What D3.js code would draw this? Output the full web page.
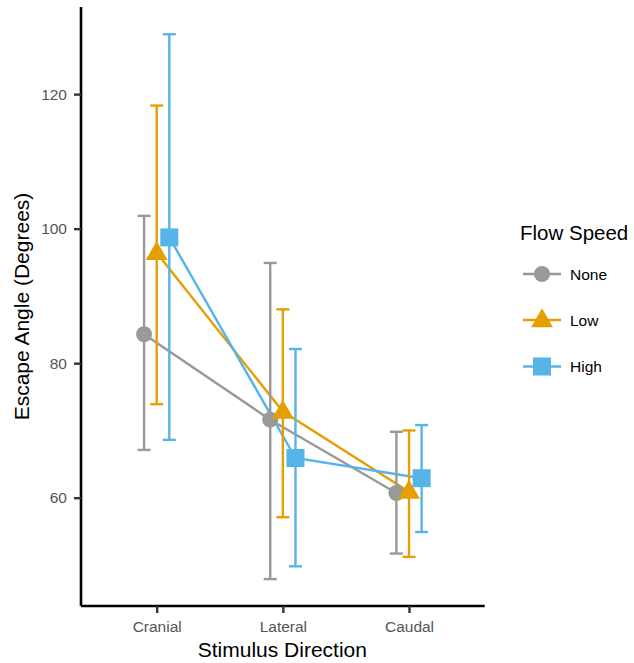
<!DOCTYPE html>
<html><head><meta charset="utf-8">
<script src="https://cdn.jsdelivr.net/npm/d3@7"></script>
<style>body{margin:0;background:#fff;font-family:Arial,"Liberation Sans",sans-serif;}</style>
</head><body>
<svg id="c" width="634" height="663"></svg>
<script>
const categories = ["Cranial", "Lateral", "Caudal"];
const seriesNames = ["None", "Low", "High"];
const meanNone = [84.3, 71.6, 60.7];
const meanLow  = [96.4, 72.8, 60.9];
const meanHigh = [98.7, 65.9, 62.9];
const upperNone = [101.9, 94.9, 69.8];
const upperLow  = [118.3, 88.0, 70.0];
const upperHigh = [128.9, 82.1, 70.8];
const lowerNone = [67.1, 47.9, 51.7];
const lowerLow  = [73.9, 57.1, 51.2];
const lowerHigh = [68.6, 49.8, 54.9];
const yTicks = [60, 80, 100, 120];

const colors = {None:"#999999", Low:"#E69F00", High:"#56B4E9"};
const dodge = {None:-0.1, Low:0, High:0.1};
const series = [
  {name:"None", mean:meanNone, upper:upperNone, lower:lowerNone},
  {name:"Low", mean:meanLow, upper:upperLow, lower:lowerLow},
  {name:"High", mean:meanHigh, upper:upperHigh, lower:lowerHigh}
];

const svg = d3.select("#c");
const pLeft = 81, pRight = 484.7, pTop = 7, pBottom = 606;
const x = d3.scalePoint().domain(categories).range([pLeft, pRight]).padding(0.6);
const y = d3.scaleLinear().domain([43.9, 132.95]).range([pBottom, pTop]);
const step = x.step();
const px = (s, i) => x(categories[i]) + dodge[s.name] * step;
const lw = 2.4;

// lines
const g = svg.append("g");
series.forEach(s => {
  const line = d3.line().x((d,i)=>px(s,i)).y(d=>y(d));
  g.append("path").attr("d", line(s.mean)).attr("fill","none")
    .attr("stroke", colors[s.name]).attr("stroke-width", lw);
});
// error bars
const capW = 6.5;
series.forEach(s => {
  s.mean.forEach((m,i) => {
    const cx = px(s,i);
    const c = colors[s.name];
    g.append("line").attr("x1",cx).attr("x2",cx).attr("y1",y(s.lower[i])).attr("y2",y(s.upper[i]))
      .attr("stroke",c).attr("stroke-width",lw);
    [s.lower[i], s.upper[i]].forEach(v => {
      g.append("line").attr("x1",cx-capW).attr("x2",cx+capW).attr("y1",y(v)).attr("y2",y(v))
        .attr("stroke",c).attr("stroke-width",lw);
    });
  });
});
// points
function drawShape(sel, name, cx, cy) {
  const c = colors[name];
  if (name === "None") {
    sel.append("circle").attr("cx",cx).attr("cy",cy).attr("r",8).attr("fill",c);
  } else if (name === "Low") {
    const w = 22, h = 19;
    sel.append("path").attr("d", `M${cx},${cy-h*0.62}L${cx+w/2},${cy+h*0.38}L${cx-w/2},${cy+h*0.38}Z`).attr("fill",c);
  } else {
    sel.append("rect").attr("x",cx-9).attr("y",cy-9).attr("width",18).attr("height",18).attr("fill",c);
  }
}
series.forEach(s => s.mean.forEach((m,i) => drawShape(g, s.name, px(s,i), y(m))));

// axes
const yAxis = svg.append("g").attr("transform",`translate(${pLeft},0)`)
  .call(d3.axisLeft(y).tickValues(yTicks).tickSize(7).tickPadding(7).tickFormat(d3.format("d")));
const xAxis = svg.append("g").attr("transform",`translate(0,${pBottom})`)
  .call(d3.axisBottom(x).tickSize(7).tickPadding(8));
[yAxis, xAxis].forEach(a => {
  a.select(".domain").attr("stroke","#000").attr("stroke-width",2.6);
  a.selectAll(".tick line").attr("stroke","#333").attr("stroke-width",2.4);
  a.selectAll(".tick text").attr("fill","#555").attr("font-size","15.5px").attr("font-family","Arial, 'Liberation Sans', sans-serif");
});
yAxis.select(".domain").attr("d",`M0,${pTop}V${pBottom}`);
xAxis.select(".domain").attr("d",`M${pLeft},0H${pRight}`);

// titles
svg.append("text").attr("x", (pLeft+pRight)/2 - 0.5).attr("y", 657).attr("text-anchor","middle")
  .attr("font-size","21px").attr("fill","#000").text("Stimulus Direction");
svg.append("text").attr("transform",`translate(29,${(pTop+pBottom)/2}) rotate(-90)`).attr("text-anchor","middle")
  .attr("font-size","21px").attr("fill","#000").text("Escape Angle (Degrees)");

// legend
const lg = svg.append("g");
lg.append("text").attr("x",520).attr("y",240).attr("font-size","20.5px").attr("fill","#000").text("Flow Speed");
const legY = {None:274, Low:320, High:366.5};
seriesNames.forEach(n => {
  const yy = legY[n];
  lg.append("line").attr("x1",523).attr("x2",561).attr("y1",yy).attr("y2",yy)
    .attr("stroke",colors[n]).attr("stroke-width",lw);
  drawShape(lg, n, 542, yy);
  lg.append("text").attr("x",570).attr("y",yy+5.5).attr("font-size","15.5px").attr("fill","#000").text(n);
});
</script>
</body></html>
